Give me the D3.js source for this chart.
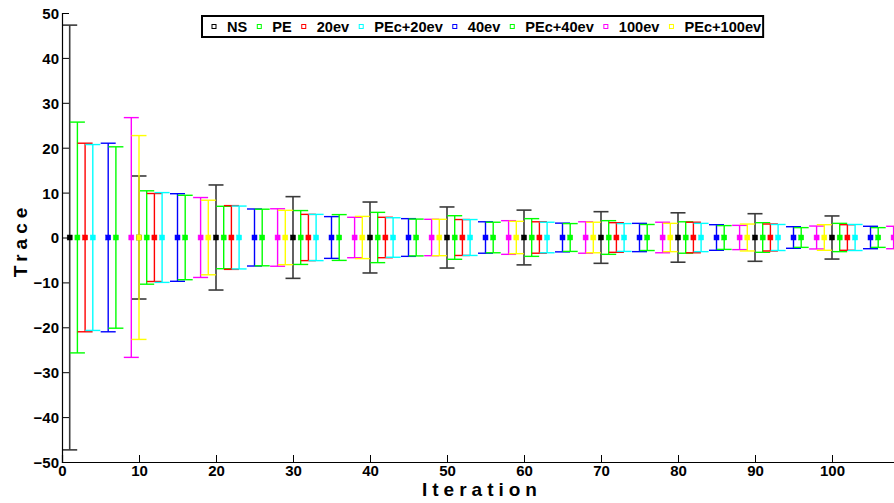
<!DOCTYPE html>
<html>
<head>
<meta charset="utf-8">
<script src="https://cdn.jsdelivr.net/npm/d3@7"></script>
<style>
  html, body { margin: 0; padding: 0; background: #fff; }
  svg { display: block; font-family: "Liberation Sans", Arial, Helvetica, sans-serif; }
</style>
</head>
<body>
<svg id="chart" width="894" height="503"></svg>
<script>
// ---- data ----
const groupStarts = [1, 10, 20, 30, 40, 50, 60, 70, 80, 90, 100];
const seriesNames = ["NS", "PE", "20ev", "PEc+20ev", "40ev", "PEc+40ev", "100ev", "PEc+100ev"];
const seriesOffsets = [0, 1, 2, 3, 5, 6, 8, 9];
const seriesColors = ["#000000", "#00ff00", "#ff0000", "#00ffff", "#0000ff", "#00ff00", "#ff00ff", "#ffff00"];
const meanValues = [0, 0, 0, 0, 0, 0, 0, 0, 0, 0, 0];
const errNS      = [47.3, 13.7, 11.7, 9.1, 7.9, 6.8, 6.1, 5.75, 5.5, 5.3, 4.8];
const errPE      = [25.7, 10.4, 6.95, 6.0, 5.6, 4.85, 4.2, 3.75, 3.5, 3.3, 3.15];
const err20ev    = [21.0, 9.8, 7.1, 5.15, 4.5, 4.0, 3.5, 3.3, 3.4, 3.0, 2.85];
const errPEc20ev = [20.7, 10.0, 7.0, 5.15, 4.4, 4.0, 3.4, 3.1, 3.15, 2.9, 2.9];
const err40ev    = [21.0, 9.75, 6.35, 4.65, 4.2, 3.5, 3.2, 3.15, 2.85, 2.4, 2.5];
const errPEc40ev = [20.2, 9.4, 6.3, 5.1, 4.1, 3.4, 3.1, 2.9, 2.65, 2.2, 2.2];
const err100ev   = [26.7, 8.9, 6.4, 4.5, 4.05, 3.75, 3.5, 3.4, 2.7, 2.55, 2.5];
const errPEc100ev= [22.7, 8.3, 6.05, 4.7, 4.05, 3.6, 3.4, 3.15, 3.0, 2.85, 2.7];
const seriesErrors = [errNS, errPE, err20ev, errPEc20ev, err40ev, errPEc40ev, err100ev, errPEc100ev];
const xTicks = [0, 10, 20, 30, 40, 50, 60, 70, 80, 90, 100];
const yTicks = [-50, -40, -30, -20, -10, 0, 10, 20, 30, 40, 50];

// ---- scales ----
const svg = d3.select("#chart");
const x = d3.scaleLinear().domain([0, 110]).range([62, 909]);
const y = d3.scaleLinear().domain([-50, 50]).range([462, 13]);
const capHalf = 7.5;

// ---- series ----
seriesNames.forEach((name, si) => {
  const pts = groupStarts.map((g, i) => ({
    x: g + seriesOffsets[si],
    m: meanValues[i],
    e: seriesErrors[si][i]
  }));
  const col = seriesColors[si];
  const gS = svg.append("g").attr("class", "series");
  const strokeW = si === 0 ? 1.6 : 1.4;
  const strokeC = si === 0 ? "#3a3a3a" : col;
  gS.selectAll("line.v").data(pts).join("line")
    .attr("x1", d => x(d.x)).attr("x2", d => x(d.x))
    .attr("y1", d => y(d.m + d.e)).attr("y2", d => y(d.m - d.e))
    .attr("stroke", strokeC).attr("stroke-width", strokeW);
  gS.selectAll("line.t").data(pts).join("line")
    .attr("x1", d => x(d.x) - capHalf).attr("x2", d => x(d.x) + capHalf)
    .attr("y1", d => y(d.m + d.e)).attr("y2", d => y(d.m + d.e))
    .attr("stroke", strokeC).attr("stroke-width", strokeW);
  gS.selectAll("line.b").data(pts).join("line")
    .attr("class", "b")
    .attr("x1", d => x(d.x) - capHalf).attr("x2", d => x(d.x) + capHalf)
    .attr("y1", d => y(d.m - d.e)).attr("y2", d => y(d.m - d.e))
    .attr("stroke", strokeC).attr("stroke-width", strokeW);
  gS.selectAll("rect").data(pts).join("rect")
    .attr("x", d => x(d.x) - 2.5).attr("y", d => y(d.m) - 2.5)
    .attr("width", 5).attr("height", 5)
    .attr("fill", col).attr("stroke", col).attr("stroke-width", 0.5);
});

// ---- axes ----
const xAxis = d3.axisBottom(x).tickValues(xTicks).tickSize(-7).tickPadding(4).tickFormat(d3.format("d"));
const yAxis = d3.axisLeft(y).tickValues(yTicks).tickSize(-7).tickPadding(3).tickFormat(d3.format("d"));
const gx = svg.append("g").attr("transform", "translate(0,462)").call(xAxis);
const gy = svg.append("g").attr("transform", "translate(62,0)").call(yAxis);
[gx, gy].forEach(g => {
  g.select(".domain").attr("stroke", "#000").attr("stroke-width", 1.2);
  g.selectAll(".tick line").attr("stroke", "#000").attr("stroke-width", 1);
  g.selectAll(".tick text").attr("fill", "#000")
    .style("font-size", "15px").style("font-weight", "bold")
    .style("font-family", "'Liberation Sans', Arial, sans-serif");
});
gy.selectAll(".tick text").attr("dy", "0.36em");
gx.selectAll(".tick text").attr("dy", "0.68em");

// ---- axis labels ----
svg.append("text")
  .attr("x", 482).attr("y", 496)
  .attr("text-anchor", "middle")
  .style("font-size", "19px").style("font-weight", "bold").style("letter-spacing", "5px")
  .text("Iteration");
svg.append("text")
  .attr("transform", "translate(27,240) rotate(-90)")
  .attr("text-anchor", "middle")
  .style("font-size", "19px").style("font-weight", "bold").style("letter-spacing", "5px")
  .text("Trace");

// ---- legend ----
const leg = svg.append("g");
const legBox = leg.append("rect")
  .attr("x", 202).attr("y", 16).attr("height", 21)
  .attr("fill", "#fff").attr("stroke", "#000").attr("stroke-width", 2);
let lx = 214;
seriesNames.forEach((name, si) => {
  leg.append("rect")
    .attr("x", lx - 2).attr("y", 24.5).attr("width", 4).attr("height", 4)
    .attr("fill", "none").attr("stroke", seriesColors[si]).attr("stroke-width", 1);
  const t = leg.append("text")
    .attr("x", lx + 13).attr("y", 32)
    .style("font-size", "14.6px").style("font-weight", "bold")
    .text(name);
  const w = t.node().getComputedTextLength();
  lx = lx + 13 + w + 12;
});
legBox.attr("width", lx - 12 + 2 - 202);
</script>
</body>
</html>
